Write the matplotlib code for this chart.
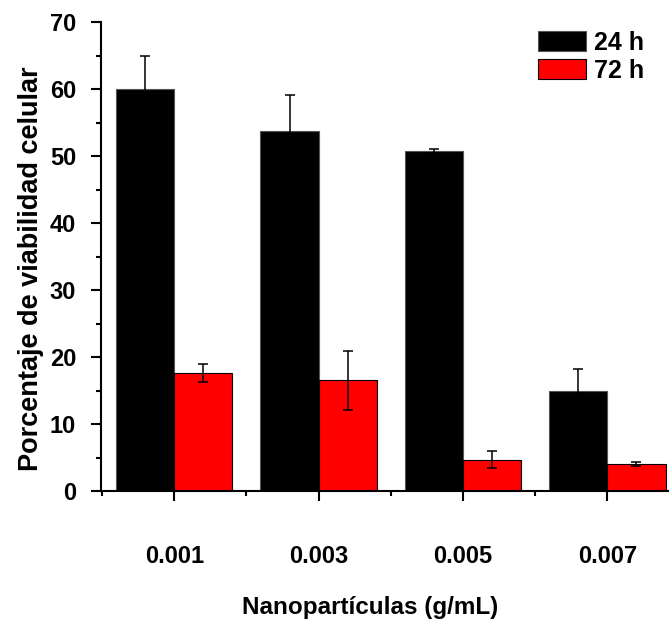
import numpy as np
import matplotlib
matplotlib.use('Agg')
import matplotlib.pyplot as plt
from matplotlib.ticker import FixedLocator

plt.rcParams['font.family'] = ['Liberation Sans', 'DejaVu Sans']

###  values
concentrations = ['0.001', '0.003', '0.005', '0.007']
via24 = [60.0, 53.8, 50.7, 15.0]
err24 = [5.0, 5.3, 0.3, 3.2]
via72 = [17.6, 16.5, 4.7, 4.1]
err72 = [1.4, 4.4, 1.2, 0.3]
seriesNames = ['24 h', '72 h']

fig = plt.figure(figsize=(6.69, 6.22), dpi=100)
ax = fig.add_axes([0.151, 0.2106, 0.8475, 0.754])

x = np.arange(len(concentrations))
w = 0.403
errStyle = dict(ecolor='black', elinewidth=1.1, capsize=3.6, capthick=1.1)
ax.bar(x - w/2, via24, w, yerr=err24, color='black', edgecolor='#555555',
       linewidth=0.8, label=seriesNames[0], error_kw=errStyle)
ax.bar(x + w/2, via72, w, yerr=err72, color='#ff0000', edgecolor='black',
       linewidth=0.8, label=seriesNames[1], error_kw=errStyle)

ax.set_xlim(-0.507, 3.42)
ax.set_ylim(0, 70)

###  axes styling
for s in ['top', 'right']:
    ax.spines[s].set_visible(False)
for s in ['left', 'bottom']:
    ax.spines[s].set_linewidth(1.5)

ax.set_yticks(np.arange(0, 71, 10))
ax.yaxis.set_minor_locator(FixedLocator(np.arange(5, 70, 10)))
ax.set_xticks(x)
ax.set_xticklabels(concentrations)
ax.xaxis.set_minor_locator(FixedLocator([-0.5, 0.5, 1.5, 2.5]))

ax.tick_params(axis='both', which='major', direction='out', length=7,
               width=1.5, labelsize=17)
ax.tick_params(axis='both', which='minor', direction='out', length=3.6,
               width=1.5)
ax.tick_params(axis='y', which='major', pad=11)
ax.tick_params(axis='x', which='major', pad=32)
for lab in ax.get_xticklabels() + ax.get_yticklabels():
    lab.set_fontweight('bold')

ax.set_ylabel('Porcentaje de viabilidad celular', fontsize=19.5,
              fontweight='bold', labelpad=4, y=0.475)
ax.set_xlabel('Nanopartículas (g/mL)', fontsize=17.5, fontweight='bold',
              labelpad=20, x=0.474)

ax.legend(loc='upper left', bbox_to_anchor=(538/669, 1 - 31/622),
          bbox_transform=fig.transFigure, frameon=False,
          prop={'size': 18, 'weight': 'bold'}, handlelength=1.92,
          handleheight=0.85, handletextpad=0.32, labelspacing=0.15,
          borderpad=0, borderaxespad=0)

fig.savefig('out.png', dpi=100)
